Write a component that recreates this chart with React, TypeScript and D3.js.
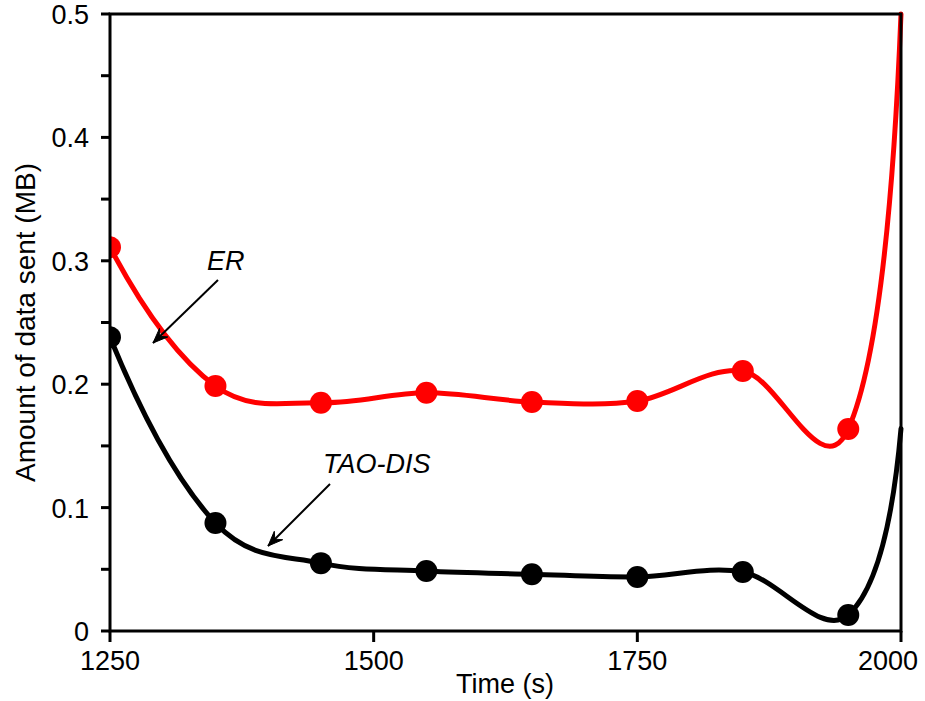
import React from "react";
import * as d3 from "d3";

const times = [1250, 1350, 1450, 1550, 1650, 1750, 1850, 1950, 2000];
const erValues = [0.311, 0.1985, 0.185, 0.193, 0.1856, 0.1864, 0.2107, 0.1637, 0.5];
const taoValues = [0.238, 0.0875, 0.055, 0.0486, 0.046, 0.0438, 0.0478, 0.013, 0.164];
const markerTimes = [1250, 1350, 1450, 1550, 1650, 1750, 1850, 1950];
const xTicks = [1250, 1500, 1750, 2000];
const yMajor = [0, 0.1, 0.2, 0.3, 0.4, 0.5];
const yMinor = [0.05, 0.15, 0.25, 0.35, 0.45];

const W = 925, H = 701;
const L = 110, R = 901, T = 14, B = 631;
const FONT = "'Liberation Sans', Arial, sans-serif";

// smooth Hermite spline through points (pixel space), natural-style end tangents
function smoothPath(pts: [number, number][]): string {
  const n = pts.length;
  const tan: [number, number][] = [];
  for (let i = 0; i < n; i++) {
    if (i > 0 && i < n - 1) {
      tan[i] = [(pts[i + 1][0] - pts[i - 1][0]) / 2, (pts[i + 1][1] - pts[i - 1][1]) / 2];
    }
  }
  tan[0] = [
    2 * (pts[1][0] - pts[0][0]) - tan[1][0],
    2 * (pts[1][1] - pts[0][1]) - tan[1][1],
  ];
  tan[n - 1] = [
    2 * (pts[n - 1][0] - pts[n - 2][0]) - tan[n - 2][0],
    2 * (pts[n - 1][1] - pts[n - 2][1]) - tan[n - 2][1],
  ];
  const p = d3.path();
  p.moveTo(pts[0][0], pts[0][1]);
  for (let i = 0; i < n - 1; i++) {
    const a = pts[i], b = pts[i + 1];
    p.bezierCurveTo(
      a[0] + tan[i][0] / 3, a[1] + tan[i][1] / 3,
      b[0] - tan[i + 1][0] / 3, b[1] - tan[i + 1][1] / 3,
      b[0], b[1]
    );
  }
  return p.toString();
}

export default function App() {
  const x = d3.scaleLinear().domain([1250, 2000]).range([L, R]);
  const y = d3.scaleLinear().domain([0, 0.5]).range([B, T]);

  const series = [
    { name: "ER", values: erValues, color: "#ff0000" },
    { name: "TAO-DIS", values: taoValues, color: "#000000" },
  ];

  const arrow = (x1: number, y1: number, x2: number, y2: number) => {
    const ang = Math.atan2(y2 - y1, x2 - x1);
    const len = 16, spread = 0.38;
    const a1 = ang + Math.PI - spread, a2 = ang + Math.PI + spread;
    const p1 = [x2 + len * Math.cos(a1), y2 + len * Math.sin(a1)];
    const p2 = [x2 + len * Math.cos(a2), y2 + len * Math.sin(a2)];
    const mid = [x2 + len * 0.6 * Math.cos(ang + Math.PI), y2 + len * 0.6 * Math.sin(ang + Math.PI)];
    return (
      <g>
        <line x1={x1} y1={y1} x2={x2} y2={y2} stroke="#000" strokeWidth={2} />
        <path d={`M${p1[0]},${p1[1]} L${x2},${y2} L${p2[0]},${p2[1]} L${mid[0]},${mid[1]} Z`} fill="#000" stroke="#000" strokeWidth={1} />
      </g>
    );
  };

  return (
    <svg width={W} height={H} style={{ position: "absolute", left: 0, top: 0, background: "#fff" }}>
      <rect x={0} y={0} width={W} height={H} fill="#fff" />
      <defs>
        <clipPath id="plotclip">
          <rect x={L + 1} y={T - 3} width={R - L + 6} height={B - T + 14} />
        </clipPath>
      </defs>
      {/* y ticks */}
      {yMajor.concat(yMinor).map((v) => (
        <line key={"yt" + v} x1={L - 9} x2={L} y1={y(v)} y2={y(v)} stroke="#000" strokeWidth={3} />
      ))}
      {yMajor.map((v) => (
        <text key={"yl" + v} x={L - 21} y={y(v) + 10} textAnchor="end" fontFamily={FONT} fontSize={27} fill="#000">
          {v === 0 ? "0" : d3.format(".1f")(v)}
        </text>
      ))}
      {/* x ticks */}
      {xTicks.map((v, i) => (
        <g key={"xt" + v}>
          <line x1={x(v)} x2={x(v)} y1={B} y2={B + 11} stroke="#000" strokeWidth={3} />
          <text
            x={i === xTicks.length - 1 ? 918 : x(v)}
            y={670}
            textAnchor={i === xTicks.length - 1 ? "end" : "middle"}
            fontFamily={FONT}
            fontSize={27}
            fill="#000"
          >
            {v}
          </text>
        </g>
      ))}
      <text x={505} y={693} textAnchor="middle" fontFamily={FONT} fontSize={27} fill="#000">
        Time (s)
      </text>
      <text
        transform={`translate(35,${(T + B) / 2}) rotate(-90)`}
        textAnchor="middle"
        fontFamily={FONT}
        fontSize={28}
        fill="#000"
      >
        Amount of data sent (MB)
      </text>
      {/* series */}
      <g clipPath="url(#plotclip)">
        {series.map((s) => (
          <g key={s.name}>
            <path
              d={smoothPath(s.values.map((v, i) => [x(times[i]), y(v)] as [number, number]))}
              fill="none"
              stroke={s.color}
              strokeWidth={5}
              strokeLinejoin="round"
              strokeLinecap="round"
            />
            {markerTimes.map((t) => {
              const i = times.indexOf(t);
              return <circle key={t} cx={x(t)} cy={y(s.values[i])} r={11} fill={s.color} />;
            })}
          </g>
        ))}
      </g>
      {/* frame */}
      <rect x={L} y={T} width={R - L} height={B - T} fill="none" stroke="#000" strokeWidth={3} />
      {/* annotations */}
      <text x={207} y={270} fontFamily={FONT} fontStyle="italic" fontSize={27} fill="#000">ER</text>
      {arrow(218, 280, 153, 343)}
      <text x={323} y={473} fontFamily={FONT} fontStyle="italic" fontSize={27} fill="#000">TAO-DIS</text>
      {arrow(330, 484, 268, 546)}
    </svg>
  );
}
